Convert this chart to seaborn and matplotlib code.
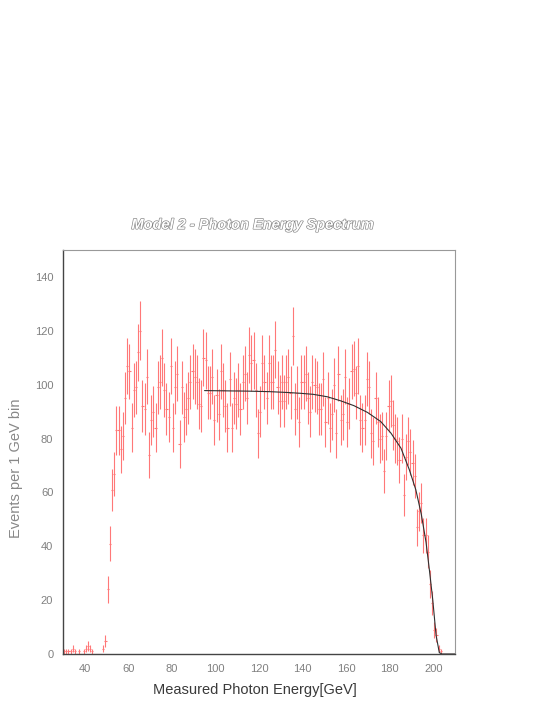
import numpy as np
import pandas as pd
import matplotlib
matplotlib.use("Agg")
import matplotlib.pyplot as plt
import matplotlib.patheffects as pe
import seaborn as sns

# ---- data: histogram bins (1 GeV, lower edges 30..209) ----
bin_low = list(range(30, 210))
counts = [
    1, 1, 1, 1, 2, 1, 0, 1, 0, 1,            # 30-39
    2, 3, 2, 1, 0, 0, 0, 0, 2, 5,            # 40-49
    24, 41, 61, 67, 83, 83, 76, 81, 95, 107,  # 50-59
    105, 84, 98, 99, 112, 120, 92, 91, 103, 74,  # 60-69
    87, 90, 84, 99, 101, 110, 98, 91, 88, 107,   # 70-79
    84, 99, 104, 78, 99, 88, 91, 95, 101, 105,   # 80-89
    103, 101, 93, 92, 110, 109, 97, 97, 103, 87,  # 90-99
    96, 89, 105, 98, 92, 84, 102, 84, 95, 93,     # 100-109
    98, 91, 101, 104, 95, 111, 108, 109, 98, 82,  # 110-119
    90, 108, 101, 95, 108, 101, 101, 113, 99, 94, # 120-129
    101, 94, 101, 103, 97, 118, 91, 97, 86, 101,  # 130-139
    101, 104, 95, 90, 101, 100, 99, 91, 91, 102,  # 140-149
    86, 95, 84, 89, 100, 82, 104, 87, 89, 103,    # 150-159
    86, 93, 105, 106, 97, 107, 87, 84, 87, 102,   # 160-169
    99, 82, 79, 95, 86, 80, 81, 68, 81, 92,       # 170-179
    94, 85, 80, 79, 72, 80, 59, 73, 79, 75,       # 180-189
    71, 66, 47, 53, 56, 44, 44, 38, 26, 19,       # 190-199
    9, 7, 2, 1, 0, 0, 0, 0, 0, 0,                 # 200-209
]

# ---- data: fit curve ----
fit_x = [95, 105, 115, 125, 133, 139, 145, 151.4, 157.5, 163.6, 169.8, 175.9,
         180.6, 185.2, 189.0, 192.0, 194.5, 196.7, 198.2, 199.8, 201.3, 202.8,
         204, 210]
fit_y = [97.8, 97.7, 97.6, 97.4, 97.1, 96.8, 96.4, 95.5, 94.0, 92.2, 89.7, 86.3,
         82.0, 76.4, 68.5, 61.0, 52.0, 41.5, 31.5, 20.0, 7.0, 0.5,
         0.0, 0.0]

title = "Model 2 - Photon Energy Spectrum"
xlabel = "Measured Photon Energy[GeV]"
ylabel = "Events per 1 GeV bin"
xticks = [40, 60, 80, 100, 120, 140, 160, 180, 200]
yticks = [0, 20, 40, 60, 80, 100, 120, 140]

sns.set_style("white")
plt.rcParams["font.family"] = ["Liberation Sans", "DejaVu Sans"]

hist = pd.DataFrame({"low": bin_low, "n": counts})
hist["x"] = hist["low"] + 0.5
hist["err"] = np.sqrt(hist["n"])
fit = pd.DataFrame({"E": fit_x, "f": fit_y})

fig = plt.figure(figsize=(5.45, 7.05), dpi=100)
ax = fig.add_axes([63 / 545, 51 / 705, 392 / 545, 404 / 705])

ax.errorbar(hist["x"], hist["n"], yerr=hist["err"], xerr=0.5, fmt="none",
            ecolor="#ff7878", elinewidth=0.8, capsize=0)
sns.lineplot(data=fit, x="E", y="f", ax=ax, color="#303030", linewidth=0.8,
             legend=False)

ax.set_xlim(30, 210)
ax.set_ylim(0, 150)
ax.set_xticks(xticks)
ax.set_yticks(yticks)
ax.set_xticks(np.arange(30, 211, 5), minor=True)
ax.set_yticks(np.arange(0, 151, 5), minor=True)
ax.tick_params(axis="both", which="major", direction="in", length=6, width=0.8,
               color="#555555", labelsize=8, labelcolor="#808080", pad=7)
ax.tick_params(axis="both", which="minor", direction="in", length=3.5, width=0.7,
               color="#555555")
ax.tick_params(top=False, right=False, which="both")
ax.set_xlabel("")
ax.set_ylabel("")

for side in ["left", "bottom"]:
    ax.spines[side].set_color("#444444")
    ax.spines[side].set_linewidth(1.0)
for side in ["top", "right"]:
    ax.spines[side].set_color("#999999")
    ax.spines[side].set_linewidth(0.8)

fig.text(0.464, 0.681, title, ha="center", va="center", fontsize=10.5,
         fontweight="bold", fontstyle="italic", color="white",
         path_effects=[pe.Stroke(linewidth=0.9, foreground="#808080"), pe.Normal()])
fig.text(0.468, 0.021, xlabel, ha="center", va="center", fontsize=10.5,
         color="#3a3a3a")
fig.text(16 / 545, 0.336, ylabel, ha="center", va="center", rotation=90,
         fontsize=10.5, color="#888888")

fig.savefig("out.png", dpi=100, facecolor="white")
